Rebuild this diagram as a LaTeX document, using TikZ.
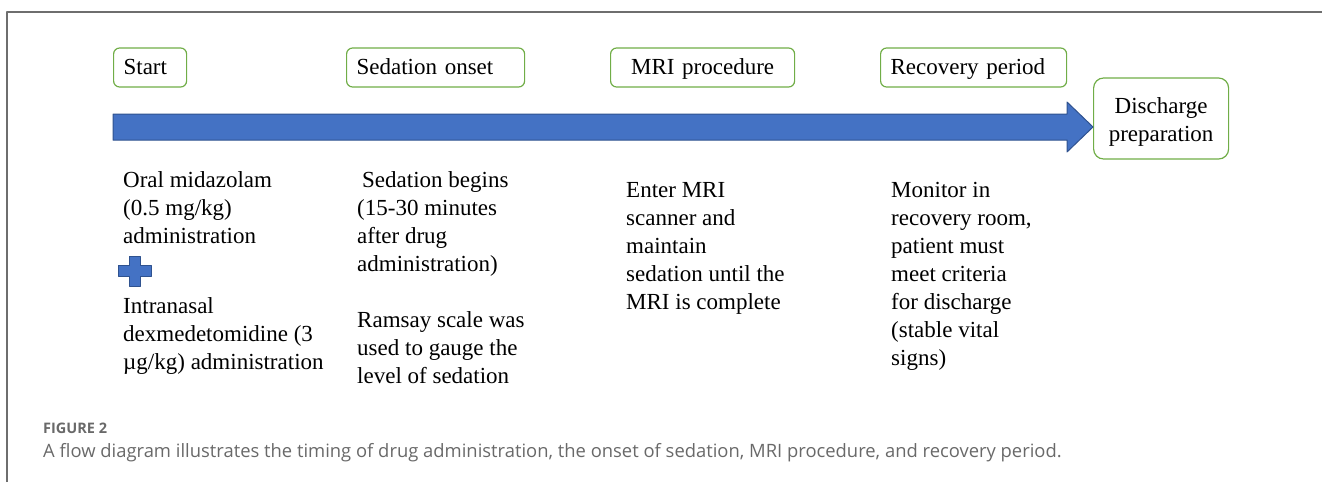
\documentclass[tikz,border=0pt]{standalone}
\usepackage{fontspec}
\setmainfont{Liberation Serif}
\newfontfamily\capfont{Open Sans}
\usetikzlibrary{positioning}

\begin{document}
\begin{tikzpicture}[x=1pt, y=-1pt, line join=round,
  font=\fontsize{23}{28}\selectfont,
  phase/.style={draw=phasegreen, line width=1.2pt, rounded corners=6pt,
    minimum height=39pt, inner xsep=10pt, inner ysep=0pt, anchor=west, align=left,
    text height=18pt, text depth=5pt},
  note/.style={anchor=base west, align=left, inner sep=0pt},
  capnote/.style={note, text=capgray}]
  \definecolor{phasegreen}{RGB}{112,173,71}
  \definecolor{arrowblue}{RGB}{68,114,196}
  \definecolor{arrowedge}{RGB}{47,82,143}
  \definecolor{capgray}{RGB}{105,105,105}
  \definecolor{framegray}{RGB}{110,110,110}
  \useasboundingbox (0,0) rectangle (1322,482);
  \draw[framegray, line width=1.2pt] (7,482) -- (7,12) -- (1322,12);

  % phase boxes above the time line
  \node[phase, text width=53pt] (start) at (113,67.5) {Start};
  \node[phase, text width=158pt] (onset) at (346,67.5) {Sedation onset};
  \node[phase, text width=164pt, align=center] (mri) at (610,67.5) {MRI procedure};
  \node[phase, text width=166pt] (recovery) at (880,67.5) {Recovery period};
  \node[phase, rounded corners=10pt, text width=115pt, align=center,
    minimum height=81pt, text height=20pt, text depth=31pt] (discharge) at (1093,118.5) {Discharge\\preparation};

  % the time line
  \coordinate (tip) at (1093,127);
  \filldraw[fill=arrowblue, draw=arrowedge, line width=1pt]
    (113,114) -- (1067,114) -- (1067,102) -- (tip) -- (1067,152)
    -- (1067,140) -- (113,140) -- cycle;

  % what happens in each phase (base = last line)
  \node[note] (oral) at (123,243) {Oral midazolam\\(0.5 mg/kg)\\administration};
  \filldraw[fill=arrowblue, draw=arrowedge, line width=0.8pt]
    (129,256) -- (140,256) -- (140,265) -- (151,265) -- (151,276) -- (140,276)
    -- (140,286) -- (129,286) -- (129,276) -- (118,276) -- (118,265) -- (129,265) -- cycle;
  \node[note] (nasal) at (123,369) {Intranasal\\dexmedetomidine (3\\µg/kg) administration};
  \node[note] (begins) at (357,383) {\hspace*{5pt}Sedation begins\\(15-30 minutes\\after drug\\administration)\\[28pt]Ramsay scale was\\used to gauge the\\level of sedation};
  \node[note] (scanner) at (626,309) {Enter MRI\\scanner and\\maintain\\sedation until the\\MRI is complete};
  \node[note] (monitor) at (891,365) {Monitor in\\recovery room,\\patient must\\meet criteria\\for discharge\\(stable vital\\signs)};

  % caption
  \node[capnote, font=\capfont\bfseries\fontsize{14.5}{17}\selectfont] (figlabel) at (43,433) {FIGURE 2};
  \node[capnote, font=\capfont\fontsize{18.4}{20}\selectfont] (caption) at (43,457)
    {A flow diagram illustrates the timing of drug administration, the onset of sedation, MRI procedure, and recovery period.};
\end{tikzpicture}
\end{document}
